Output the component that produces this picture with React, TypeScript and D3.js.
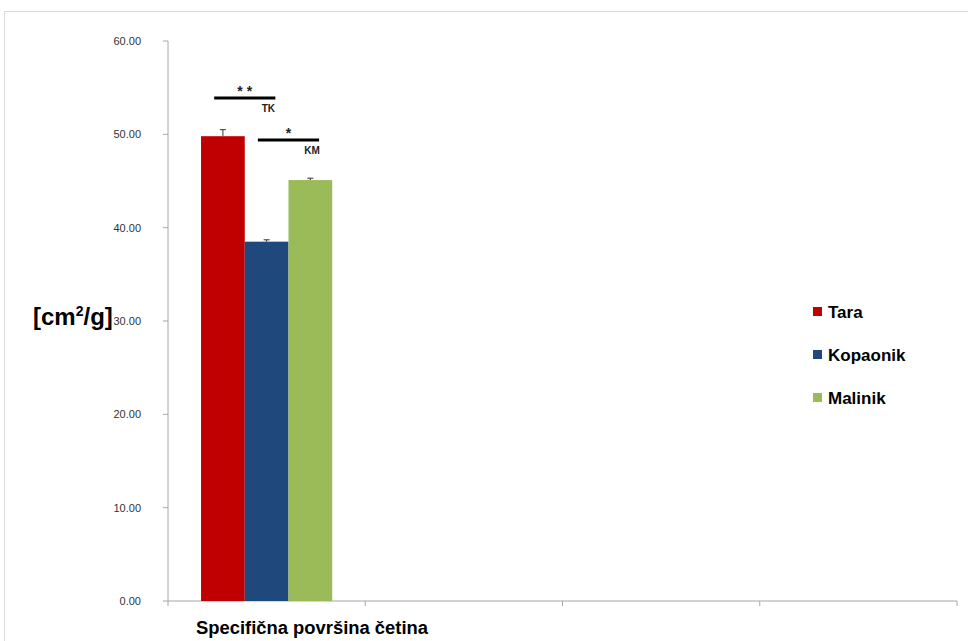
import React from "react";
import * as d3 from "d3";

const categories = ["Specifična površina četina", "c2", "c3", "c4"];
const series = ["Tara", "Kopaonik", "Malinik"];
const values = [49.8, 38.5, 45.1];
const errors = [0.7, 0.2, 0.2];
const colors = ["#C00000", "#1F497D", "#9BBB59"];
const yTicks = [0, 10, 20, 30, 40, 50, 60];

export default function App() {
  const W = 968, H = 641;
  const x0 = 168, x1 = 957, yb = 601, yt = 41;
  const y = d3.scaleLinear().domain([0, 60]).range([yb, yt]);
  const xCat = d3.scaleBand().domain(categories).range([x0, x1]).paddingInner(0).paddingOuter(0);
  const groupW = xCat.bandwidth() * 0.665;
  const xSer = d3.scaleBand().domain(series).range([0, groupW]);
  const catStart = (xCat(categories[0]) as number) + (xCat.bandwidth() - groupW) / 2;
  const bx = (i: number) => catStart + (xSer(series[i]) as number);
  const bw = xSer.bandwidth();
  const boundaries = categories.map((c) => xCat(c) as number).concat([x1]);
  const font = "Liberation Sans, Arial, sans-serif";

  const sigs = [
    { a: 0, b: 1, y: 53.9, star: "* *", lab: "TK" },
    { a: 1, b: 2, y: 49.4, star: "*", lab: "KM" },
  ];

  return (
    <svg width={W} height={H} style={{ position: "absolute", left: 0, top: 0, background: "#fff" }}>
      <rect x={4.5} y={11.5} width={W + 10} height={H} fill="none" stroke="#d9d9d9" />
      {/* y axis */}
      <line x1={x0} x2={x0} y1={yt} y2={yb} stroke="#a6a6a6" />
      {yTicks.map((t) => (
        <g key={t}>
          <line x1={x0 - 5} x2={x0} y1={y(t)} y2={y(t)} stroke="#a6a6a6" />
          <text x={x0 - 27} y={y(t) + 4} textAnchor="end" fontSize={11} fontFamily={font} fill="#333">
            {t.toFixed(2)}
          </text>
        </g>
      ))}
      {/* x axis */}
      <line x1={x0} x2={x1} y1={yb} y2={yb} stroke="#a6a6a6" />
      {boundaries.map((b, i) => (
        <line key={i} x1={b} x2={b} y1={yb} y2={yb + 5} stroke="#a6a6a6" />
      ))}
      {/* bars */}
      {values.map((v, i) => (
        <g key={i}>
          <rect x={bx(i)} y={y(v)} width={bw} height={yb - y(v)} fill={colors[i]} />
          <line x1={bx(i) + bw / 2} x2={bx(i) + bw / 2} y1={y(v)} y2={y(v + errors[i])} stroke="#333" />
          <line x1={bx(i) + bw / 2 - 3} x2={bx(i) + bw / 2 + 3} y1={y(v + errors[i])} y2={y(v + errors[i])} stroke="#333" />
        </g>
      ))}
      {/* significance */}
      {sigs.map((s, k) => {
        const xa = bx(s.a) + bw * 0.3;
        const xb = bx(s.b) + bw * 0.7;
        const yy = y(s.y);
        return (
          <g key={k}>
            <line x1={xa} x2={xb} y1={yy} y2={yy} stroke="#000" strokeWidth={3} />
            <text x={(xa + xb) / 2} y={yy - 2} textAnchor="middle" fontSize={14} fontWeight="bold" fontFamily={font} fill="#222">
              {s.star}
            </text>
            <text x={xb - 7} y={yy + 14} textAnchor="middle" fontSize={10} fontWeight="bold" fontFamily={font} fill="#222">
              {s.lab}
            </text>
          </g>
        );
      })}
      {/* y title */}
      <text x={33} y={325} fontSize={24} fontWeight="bold" fontFamily={font} fill="#000">
        [cm<tspan dy={-9} fontSize={14}>2</tspan><tspan dy={9}>/g]</tspan>
      </text>
      {/* x label */}
      <text x={196} y={634} fontSize={18} fontWeight="bold" fontFamily={font} fill="#000" textLength={232} lengthAdjust="spacingAndGlyphs">
        {categories[0]}
      </text>
      {/* legend */}
      {series.map((s, i) => (
        <g key={s}>
          <rect x={813} y={307 + i * 43} width={9} height={9} fill={colors[i]} />
          <text x={828} y={318 + i * 43} fontSize={17} fontWeight="bold" fontFamily={font} fill="#000">
            {s}
          </text>
        </g>
      ))}
    </svg>
  );
}
